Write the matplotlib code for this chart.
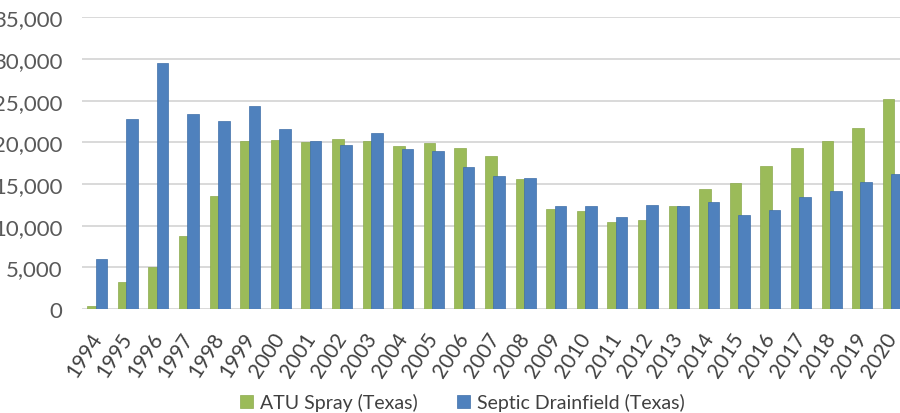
import matplotlib
matplotlib.use("Agg")
import matplotlib.pyplot as plt
import numpy as np
from matplotlib.ticker import FuncFormatter

# ── data ──────────────────────────────────────────────────────────────────────
years = [str(y) for y in range(1994, 2021)]
atu_spray = [400, 3200, 5000, 8800, 13500, 20100, 20300, 20000, 20400, 20200,
             19600, 19900, 19300, 18300, 15600, 12000, 11700, 10400, 10700, 12300,
             14400, 15100, 17200, 19300, 20200, 21700, 25200]
septic = [6000, 22800, 29500, 23400, 22500, 24300, 21600, 20100, 19700, 21100,
          19200, 19000, 17000, 15900, 15700, 12300, 12300, 11000, 12500, 12400,
          12800, 11300, 11900, 13400, 14200, 15200, 16200]
series_labels = ["ATU Spray (Texas)", "Septic Drainfield (Texas)"]

# ── style ─────────────────────────────────────────────────────────────────────
C_GREEN = "#9BBB59"
C_BLUE = "#4F81BD"
C_GRID = "#D9D9D9"
C_TEXT = "#595959"
plt.rcParams["font.family"] = ["Lato", "DejaVu Sans"]

fig = plt.figure(figsize=(9, 4.14), dpi=100)
fig.patch.set_facecolor("white")
ax = fig.add_axes([82 / 900, 104 / 414, 826 / 900, 291.7 / 414])

x = np.arange(len(years))
w = 0.38
off = 0.137
ax.bar(x - off, atu_spray, w, color=C_GREEN, edgecolor="#8CAA4E", lw=0.5,
       label=series_labels[0], zorder=2)
ax.bar(x + off, septic, w, color=C_BLUE, edgecolor="#3F6FA8", lw=0.5,
       label=series_labels[1], zorder=3)

ax.set_xlim(-0.5, len(years) - 0.5)
ax.set_ylim(0, 35000)
ax.set_yticks(np.arange(0, 35001, 5000))
ax.yaxis.set_major_formatter(FuncFormatter(lambda v, p: f"{int(v):,}"))
ax.grid(axis="y", color=C_GRID, lw=1.4, zorder=0)
ax.set_axisbelow(True)
for s in ax.spines.values():
    s.set_visible(False)

ax.tick_params(axis="y", length=0, pad=14, labelsize=16, labelcolor=C_TEXT)
ax.set_xticks(x)
ax.set_xticklabels(years, rotation=57, ha="right", va="center",
                   rotation_mode="anchor")
ax.tick_params(axis="x", length=0, pad=18, labelsize=15, labelcolor="#404040")

fig.legend(loc="center", bbox_to_anchor=(0.514, 0.027), ncol=2, frameon=False,
           fontsize=14, handlelength=0.65, handleheight=0.65, handletextpad=0.4,
           columnspacing=2.0, labelcolor="#404040")

fig.savefig("out.png", dpi=100, facecolor=fig.get_facecolor())
